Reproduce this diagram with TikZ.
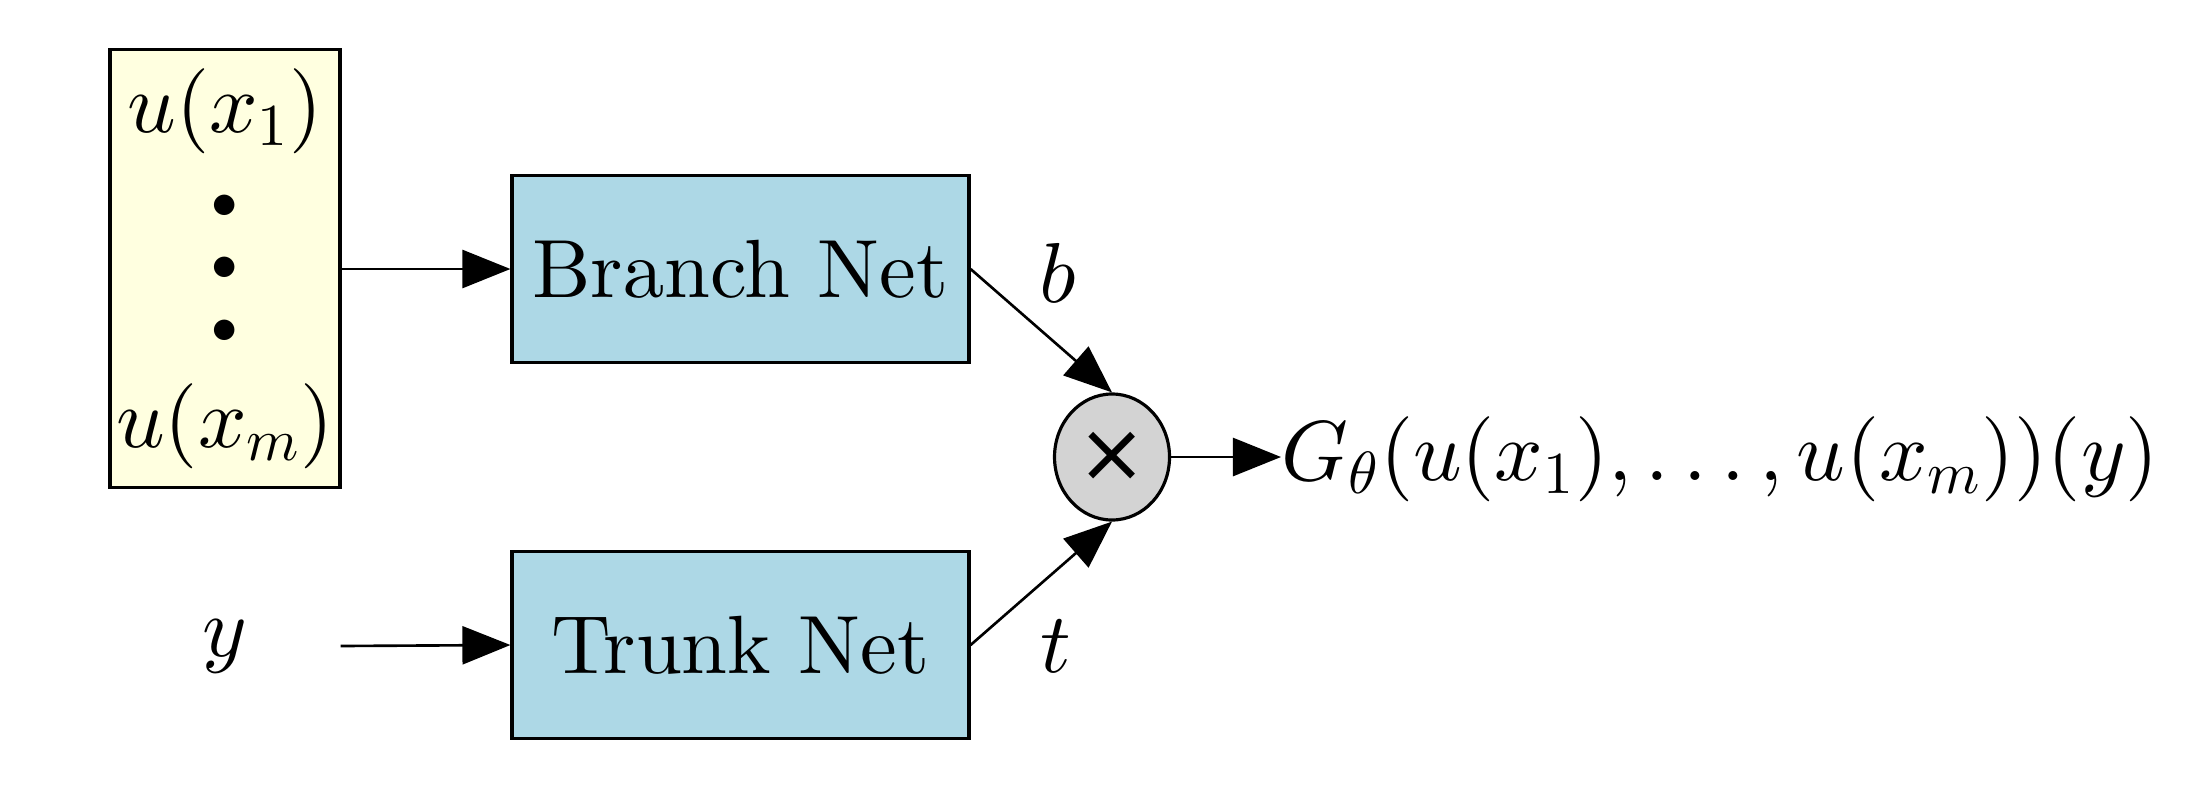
\documentclass[tikz,border=0pt]{standalone}
\usepackage{fontspec}
\newfontfamily\dejavu{DejaVu Sans}
\DeclareFontShape{OT1}{cmr}{m}{n}{<->cmr10}{}
\DeclareFontShape{OML}{cmm}{m}{it}{<->cmmi10}{}
\DeclareFontShape{OMS}{cmsy}{m}{n}{<->cmsy10}{}
\DeclareFontShape{OMX}{cmex}{m}{n}{<->cmex10}{}
\newcommand{\cmtext}{\fontencoding{OT1}\fontfamily{cmr}\selectfont}
\usetikzlibrary{arrows.meta,shapes.geometric}
\definecolor{lyellow}{HTML}{FFFFE0}
\definecolor{lblue}{HTML}{ADD8E6}
\definecolor{lgray}{HTML}{D3D3D3}
\tikzset{
  every node/.style={font=\fontsize{24.2}{29}\selectfont, inner sep=0pt},
  netbox/.style={draw=black, line width=0.9pt, fill=lblue, rectangle, minimum width=457*0.01cm, minimum height=187*0.01cm, font=\fontsize{23.5}{28}\selectfont\cmtext},
  inbox/.style={draw=black, line width=0.9pt, fill=lyellow, rectangle, minimum width=230*0.01cm, minimum height=438*0.01cm},
  mulnode/.style={draw=black, line width=0.9pt, fill=lgray, ellipse, minimum width=115*0.01cm, minimum height=126*0.01cm, font=\fontsize{23.5}{28}\selectfont},
  dotnode/.style={font=\fontsize{15}{18}\selectfont},
  conn/.style={line width=0.75pt, -{Triangle[length=0.48cm, width=0.38cm]}}
}
\begin{document}
\begin{tikzpicture}[x=0.01cm, y=-0.01cm]
\useasboundingbox (0,0) rectangle (2192,809);
\node[inbox] (in) at (225,268.5) {};
\node (u1) at (225,111) {$u(x_1)$};
\node[dotnode] (d1) at (225,207) {$\bullet$};
\node[dotnode] (d2) at (225,269) {$\bullet$};
\node[dotnode] (d3) at (225,332) {$\bullet$};
\node (um) at (225,426) {$u(x_m)$};
\node[minimum width=230*0.01cm] (y) at (225,646) {$y$};
\node[netbox] (branch) at (740.5,269) {Branch Net};
\node[netbox] (trunk) at (740.5,645) {Trunk Net};
\node[mulnode] (mul) at (1112,457) {\dejavu ×};
\node[anchor=west] (out) at (1281,459) {$G_\theta(u(x_1),\ldots,u(x_m))(y)$};
\node (b) at (1058,273) {$b$};
\node (t) at (1056,646) {$t$};
\draw[conn] (in.east |- branch.west) -- (branch.west);
\draw[conn] (y.east) -- (trunk.west);
\draw[conn] (branch.east) -- (mul.north);
\draw[conn] (trunk.east) -- (mul.south);
\draw[conn] (mul.east) -- (out.west |- mul.east);
\end{tikzpicture}
\end{document}
